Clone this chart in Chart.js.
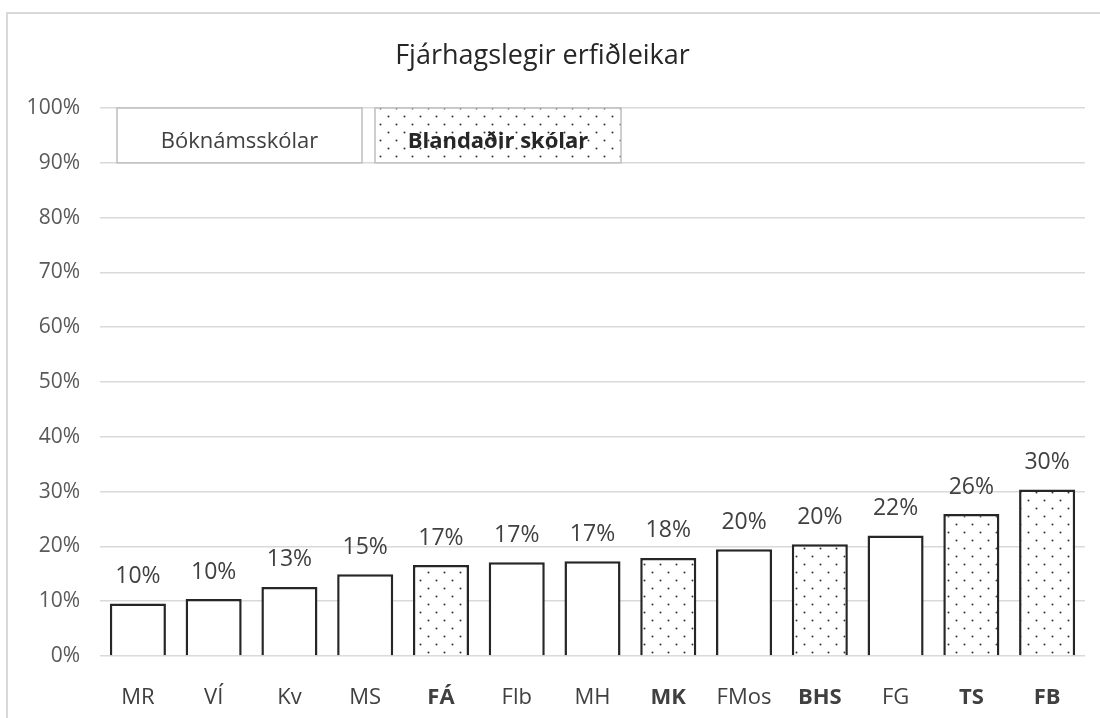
<!DOCTYPE html>
<html>
<head>
<meta charset="utf-8">
<script src="https://cdn.jsdelivr.net/npm/chart.js@4.4.1/dist/chart.umd.min.js"></script>
<style>
  html, body { margin: 0; padding: 0; background: #fff; overflow: hidden; }
  #frame { position: absolute; left: 6px; top: 12px; width: 1120px; height: 730px; border: 2px solid #d9d9d9; }
  #chart { position: absolute; left: 0; top: 0; }
</style>
</head>
<body>
<div id="frame"></div>
<canvas id="chart" width="1100" height="718"></canvas>
<script>
// schools, sorted by share reporting financial difficulties
const schools = ["MR", "VÍ", "Kv", "MS", "FÁ", "Flb", "MH", "MK", "FMos", "BHS", "FG", "TS", "FB"];
const values = [9.6, 10.4, 12.6, 14.9, 16.6, 17.1, 17.3, 17.9, 19.5, 20.4, 22.0, 25.9, 30.4];
// true = blandaður skóli (dotted bar, bold label)
const mixed = [false, false, false, false, true, false, false, true, false, true, false, true, true];
const legendLabels = ["Bóknámsskólar", "Blandaðir skólar"];
const chartTitle = "Fjárhagslegir erfiðleikar";

const FONT = "'Open Sans', sans-serif";

// dotted fill like the Excel 5% pattern
function makeDots() {
    const c = document.createElement("canvas");
    c.width = 16; c.height = 16;
    const g = c.getContext("2d");
    g.fillStyle = "#fff";
    g.fillRect(0, 0, 16, 16);
    g.fillStyle = "#333";
    g.beginPath(); g.arc(4.5, 4.5, 1, 0, Math.PI * 2); g.fill();
    g.beginPath(); g.arc(12.5, 12.5, 1, 0, Math.PI * 2); g.fill();
    return document.getElementById("chart").getContext("2d").createPattern(c, "repeat");
}
const dots = makeDots();

// ✅ percentage labels above each bar
const barLabels = {
    id: "barLabels",
    afterDatasetsDraw(chart) {
        const ctx = chart.ctx;
        const meta = chart.getDatasetMeta(0);
        ctx.save();
        ctx.font = "23px " + FONT;
        ctx.fillStyle = "#404040";
        ctx.textAlign = "center";
        ctx.textBaseline = "middle";
        meta.data.forEach((bar, i) => {
            ctx.fillText(Math.round(values[i]) + "%", bar.x, bar.y - 27);
        });
        ctx.restore();
    }
};

// ✅ the two boxes at the top that work as legend
const legendBoxes = {
    id: "legendBoxes",
    afterDatasetsDraw(chart) {
        const ctx = chart.ctx;
        const y = chart.scales.y;
        const left = chart.chartArea.left;
        const top = y.getPixelForValue(100);
        const bottom = y.getPixelForValue(90);
        const boxes = [
            { x0: left + 17, x1: left + 262, fill: "#fff", bold: false },
            { x0: left + 275, x1: left + 521, fill: dots, bold: true }
        ];
        ctx.save();
        boxes.forEach((b, i) => {
            ctx.fillStyle = b.fill;
            ctx.fillRect(b.x0, top, b.x1 - b.x0, bottom - top);
            ctx.strokeStyle = "#bfbfbf";
            ctx.lineWidth = 1.5;
            ctx.strokeRect(b.x0, top, b.x1 - b.x0, bottom - top);
            ctx.font = (b.bold ? "bold " : "") + "22px " + FONT;
            ctx.fillStyle = b.bold ? "#262626" : "#404040";
            ctx.textAlign = "center";
            ctx.textBaseline = "middle";
            ctx.fillText(legendLabels[i], (b.x0 + b.x1) / 2, top + (bottom - top) * 0.62);
        });
        ctx.restore();
    }
};

new Chart(document.getElementById("chart"), {
    type: "bar",
    data: {
        labels: schools,
        datasets: [{
            data: values,
            backgroundColor: mixed.map(m => m ? dots : "#fff"),
            borderColor: "#262626",
            borderWidth: 2.5,
            barPercentage: 0.74,
            categoryPercentage: 1
        }]
    },
    options: {
        responsive: false,
        animation: false,
        layout: { padding: { left: 0, right: 15, top: 22, bottom: 0 } },
        plugins: {
            legend: { display: false },
            tooltip: { enabled: false },
            title: {
                display: true,
                text: chartTitle,
                color: "#262626",
                font: { family: FONT, size: 27, weight: "normal" },
                padding: { top: 17.8, bottom: 35.8 }
            }
        },
        scales: {
            x: {
                afterFit: s => { s.height = 62; },
                grid: { display: false, drawTicks: false },
                border: { display: false },
                ticks: {
                    color: "#404040",
                    padding: 29,
                    font: ctx => ({ family: FONT, size: 22, weight: mixed[ctx.index] ? "bold" : "normal" })
                }
            },
            y: {
                min: 0,
                max: 100,
                afterFit: s => { s.width = 100; },
                grid: { color: "#d9d9d9", lineWidth: 1.5, drawTicks: false },
                border: { display: false },
                ticks: {
                    stepSize: 10,
                    padding: 20,
                    color: "#595959",
                    font: { family: FONT, size: 21 },
                    callback: v => v + "%"
                }
            }
        }
    },
    plugins: [barLabels, legendBoxes]
});
</script>
</body>
</html>
